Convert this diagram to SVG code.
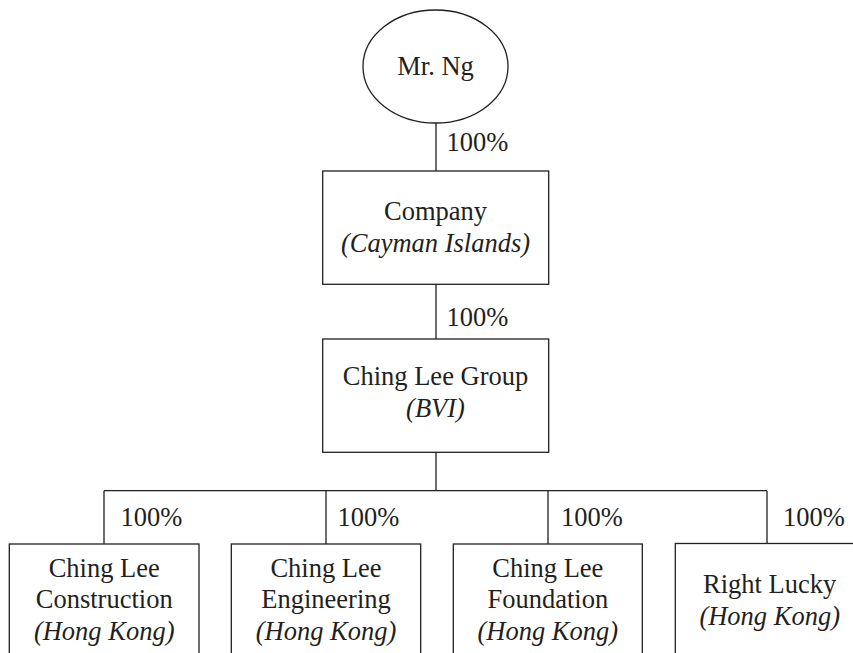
<svg xmlns="http://www.w3.org/2000/svg" width="853" height="653" viewBox="0 0 853 653">
<style>
.n{fill:#fff;stroke:#231f20;stroke-width:1.3}
.c{fill:none;stroke:#231f20;stroke-width:1.3}
text{font-family:"Liberation Serif","Times New Roman",serif;font-size:26.5px;fill:#231f20}
.m{text-anchor:middle}
.i{font-style:italic}
</style>
<rect width="853" height="653" fill="#fff"/>
<g id="connectors">
<path class="c" d="M436 123V171M436 284V339M436 452V490.7M104 490.7H767M104 490.7V544M326 490.7V544M548 490.7V544M767 490.7V544"/>
<text x="446.5" y="151">100%</text>
<text x="446.5" y="326">100%</text>
<text x="120.5" y="526">100%</text>
<text x="337.5" y="526">100%</text>
<text x="561" y="526">100%</text>
<text x="783" y="526">100%</text>
</g>
<g id="mr-ng">
<ellipse class="n" cx="435.5" cy="66.5" rx="72.5" ry="56.5"/>
<text class="m" x="435.5" y="75">Mr. Ng</text>
</g>
<g id="company">
<rect class="n" x="322.7" y="171" width="226" height="113.3"/>
<text class="m" x="435.5" y="220">Company</text>
<text class="m i" x="435.5" y="251.5">(Cayman Islands)</text>
</g>
<g id="ching-lee-group">
<rect class="n" x="322.7" y="339" width="226" height="113.3"/>
<text class="m" x="435.5" y="385">Ching Lee Group</text>
<text class="m i" x="435.5" y="416.5">(BVI)</text>
</g>
<g id="construction">
<rect class="n" x="9.3" y="544" width="189.7" height="120"/>
<text class="m" x="104.2" y="576.7">Ching Lee</text>
<text class="m" x="104.2" y="608">Construction</text>
<text class="m i" x="104.2" y="640">(Hong Kong)</text>
</g>
<g id="engineering">
<rect class="n" x="231.3" y="544" width="189.4" height="120"/>
<text class="m" x="326" y="576.7">Ching Lee</text>
<text class="m" x="326" y="608">Engineering</text>
<text class="m i" x="326" y="640">(Hong Kong)</text>
</g>
<g id="foundation">
<rect class="n" x="453.3" y="544" width="189" height="120"/>
<text class="m" x="547.8" y="576.7">Ching Lee</text>
<text class="m" x="547.8" y="608">Foundation</text>
<text class="m i" x="547.8" y="640">(Hong Kong)</text>
</g>
<g id="right-lucky">
<rect class="n" x="675.3" y="543.5" width="189" height="120"/>
<text class="m" x="769.7" y="593">Right Lucky</text>
<text class="m i" x="769.7" y="624.5">(Hong Kong)</text>
</g>
</svg>
